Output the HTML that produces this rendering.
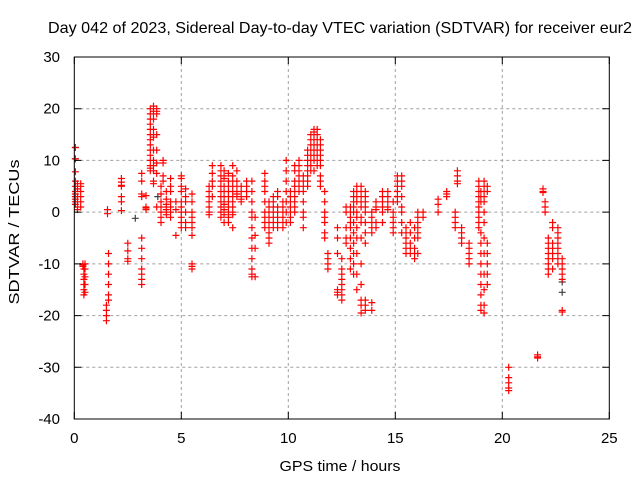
<!DOCTYPE html>
<html><head><meta charset="utf-8"><style>
html,body{margin:0;padding:0;background:#fff;}
svg{display:block;font-family:"Liberation Sans","DejaVu Sans",sans-serif;}
</style></head><body>
<svg id="chart" width="640" height="480" viewBox="0 0 640 480">
<rect width="640" height="480" fill="#fff"/>
<text x="340" y="33" font-size="16" text-anchor="middle" textLength="584" lengthAdjust="spacingAndGlyphs" fill="#000">Day 042 of 2023, Sidereal Day-to-day VTEC variation (SDTVAR) for receiver eur2</text>
<g id="grid"></g>
<g id="marks"></g>
<g id="axes"></g>
<text x="340" y="471" font-size="15" text-anchor="middle" textLength="121" lengthAdjust="spacingAndGlyphs">GPS time / hours</text>
<text transform="translate(19,232) rotate(-90)" font-size="15" text-anchor="middle" textLength="145" lengthAdjust="spacingAndGlyphs">SDTVAR / TECUs</text>
</svg>
<script>
const xTicks=[0,5,10,15,20,25];
const yTicks=[30,20,10,0,-10,-20,-30,-40];
// clusters: [hour, [values...]]
const redClusters=[
[0.05,[12.5,10.3,7.8,6,5,4,3.5,3,2.5,2,1.5]],
[0.15,[5.5,4.5,3,2,1,0.5]],
[0.3,[5.5,5,4,3,2,1]],
[0.4,[-10,-10.2,-10.5]],
[0.45,[-11,-12,-13,-14,-15,-16]],
[0.5,[-10,-11,-12.5,-14,-15.5]],
[1.55,[0.5,-0.3]],
[1.5,[-20,-21,-19,-18]],
[1.6,[-8,-10,-12,-14,-16,-17]],
[2.2,[6.5,5.8,5,5.2,3,2,0.3]],
[2.5,[-6,-7.5,-9,-9.5]],
[3.15,[7.5,6,3.5,3,-5,-7,-9,-11,-12,-13,-14]],
[3.35,[1,0.5,0.8,3.2]],
[3.55,[8,8.5,9,10,11,12,13,14,15,16,17,18,19,20]],
[3.7,[20.5,19.5,19,18,16,15,14.5,12,10,9,8,6,5.5]],
[3.85,[20,19.5,19,15,12,9.5,7.5,1]],
[4.05,[5,3.5,2,1,0,-1,-2]],
[4.15,[10,9.5,6,7]],
[4.3,[4,2.5,1.5,0.5,-0.5,1,0]],
[4.5,[6.5,5,4,2,1,0,-1]],
[4.75,[-4.5,2,0.5]],
[5.0,[7,6.5,5,4,2,1,0,-1,-2,-3]],
[5.2,[4.5,3,2,0,-2,-3]],
[5.5,[-10,-10.5,-11,3.5,2,0,-1,-2,-3,-4.5]],
[6.3,[5,4,3,2,1,0,-0.5]],
[6.45,[9,7.5,6,5,3]],
[6.85,[9,8,7,6,5,4,3,2,1,0,-1]],
[7.0,[8,7,6.5,5,4,3,2,1.5,0.5,-0.5,-2]],
[7.2,[7.5,6,5,4,3,2,1,0,-1,-2]],
[7.4,[9,7,6,5,4,3,2,1,0,-0.5,-3]],
[7.6,[8,6,5,4,3.5,3]],
[7.8,[5,4,3,2.5,2,3]],
[8.05,[3,4,5,6]],
[8.3,[6,4,2,0,-1,-3,-5,-7,-9,-11,-12,-12.5]],
[8.45,[-1,-4.5,-7,-12.5]],
[8.9,[7.5,6,5,4,2,0,-1,-2,-3]],
[9.1,[2,1,0,-1,-2,-3,-4,-5,-6]],
[9.3,[3,2,1,0,-1,-2,-3]],
[9.5,[4,3,1,0,-1,-2,-3]],
[9.75,[2,1,0,-1,-2,-3]],
[9.9,[10,8,6,4,2,0,-2]],
[10.1,[4,3,2,1,0,-1,-2]],
[10.3,[9,8,6,5,4,3,2,1,0]],
[10.5,[10,9,8,7,6,5,4]],
[10.7,[7,6,5,4,2,0,-1,-3]],
[10.9,[12,11,10,9,8,7,6,5]],
[11.05,[15,14,13,12,11,10,9,8]],
[11.2,[16,15.5,15,14,13,12,11,10,8]],
[11.35,[16,15,14,13,12,11,10,9]],
[11.5,[14,13,12,11,10,9,7,6,5]],
[11.7,[4,2,0,-1,-2,-4,-5]],
[11.85,[-8,-9,-10,-11]],
[12.3,[-16,-15.5,-15,-3,-5,-8]],
[12.5,[-12,-13,-14,-15,-16,-17,-11,-9]],
[12.7,[-6,-5,-3,0,1]],
[12.9,[1,0,-1,-2,-3,-5,-7,-9,-11]],
[13.05,[4,3,2,1,0,-2,-4,-6,-8,-10,-12]],
[13.2,[5,4,3,2,0,-1,-3,-5,-8,-12,-15]],
[13.4,[5,4,3,2,1,-1,-2,-5,-10,-14,-17,-18,-19.5]],
[13.6,[4,3,2,1,0,-2,-4,-6,-18,-19,-17]],
[13.9,[-1,-2,-3,-4,0,-17.5,-19]],
[14.1,[2,1,0.5,-2,-3]],
[14.4,[3,4,2,1,0,-2]],
[14.65,[4,3,2,1,0.5]],
[14.9,[2,0,-1,-2,-3,-4]],
[15.1,[7,6,5,4,3,2]],
[15.3,[7,6,5,3,1,0,-2,-4]],
[15.5,[-4,-5,-6,-7,-8,-3]],
[15.7,[-2,-4,-6,-7,-8]],
[15.9,[-3,-5,-7,-8,-9]],
[16.05,[0,-1,-2,-3,-4,-5,-8]],
[16.3,[0,-1]],
[17.0,[2.5,1.5,0]],
[17.4,[3,3.5,4]],
[17.9,[8,7,6,5.5]],
[17.8,[0,-1,-2,-3]],
[18.1,[-3,-4,-5,-6]],
[18.45,[-6,-7,-8,-9,-10]],
[18.9,[6,5,4,3,2,1,0,-1,-2,-3]],
[19.0,[4,3,2,-4,-6,-8,-10,-12,-14,-16,-18,-19]],
[19.15,[6,5,4,3,2,0,-2,-5,-8,-12,-15,-18,-19.5]],
[19.3,[5,4,-6,-8,-10,-12,-14]],
[20.3,[-30,-32,-33,-34,-34.5,-34]],
[21.65,[-27.6,-28,-28.2]],
[21.9,[4.5,4,3.8]],
[22.0,[2,1,0]],
[22.15,[-5,-6,-7,-8,-9,-10,-11,-12]],
[22.35,[-2,-3,-6,-7,-8,-9,-11]],
[22.6,[-3,-4,-5,-6,-7,-8,-9,-10]],
[22.8,[-9,-10,-11,-12,-13,-19,-19.3]]
];
const darkClusters=[
[0.05,[12.5,10.3]],
[2.85,[-1.2]],
[3.9,[3]],
[22.8,[-13.5,-15.5]]
];
const X0=74.3,X1=609.3,Y0=419,Y1=57,xMin=0,xMax=25,yMin=-40,yMax=30;
const sx=v=>X0+(v-xMin)/(xMax-xMin)*(X1-X0);
const sy=v=>Y0-(v-yMin)/(yMax-yMin)*(Y0-Y1);
const NS="http://www.w3.org/2000/svg";
function mk(tag,parent){const e=document.createElementNS(NS,tag);parent.appendChild(e);return e;}
const grid=document.getElementById('grid'),axes=document.getElementById('axes'),marks=document.getElementById('marks');
xTicks.forEach(t=>{const x=sx(t);
 if(t>xMin&&t<xMax){const g=mk('line',grid);g.setAttribute('x1',x);g.setAttribute('x2',x);g.setAttribute('y1',Y1);g.setAttribute('y2',Y0);g.setAttribute('stroke','#a0a0a0');g.setAttribute('stroke-dasharray','3,3');
 
 }
 const tk=mk('path',axes);tk.setAttribute('d',`M${x},${Y0}v-7M${x},${Y1}v7`);tk.setAttribute('stroke','#000');
 
 
 const l=mk('text',axes);l.setAttribute('x',x);l.setAttribute('y',443);l.setAttribute('font-size','15');l.setAttribute('text-anchor','middle');l.textContent=t;
 
 
});
yTicks.forEach(t=>{const y=sy(t);
 if(t>yMin&&t<yMax){const g=mk('line',grid);g.setAttribute('x1',X0);g.setAttribute('x2',X1);g.setAttribute('y1',y);g.setAttribute('y2',y);g.setAttribute('stroke','#a0a0a0');g.setAttribute('stroke-dasharray','3,3');
 
 }
 const tk=mk('path',axes);tk.setAttribute('d',`M${X0},${y}h7M${X1},${y}h-7`);tk.setAttribute('stroke','#000');
 
 
 const l=mk('text',axes);l.setAttribute('x',60);l.setAttribute('y',y+5);l.setAttribute('font-size','15');l.setAttribute('text-anchor','end');l.textContent=t;
 
 
});
const fr=mk('rect',axes);fr.setAttribute('x',X0);fr.setAttribute('y',Y1);fr.setAttribute('width',X1-X0);fr.setAttribute('height',Y0-Y1);fr.setAttribute('fill','none');fr.setAttribute('stroke','#000');


function drawSeries(clusters,color,name){
 let d='';
 clusters.forEach(([h,vals])=>vals.forEach(v=>{const x=sx(h),y=sy(v);d+=`M${(x-3.5).toFixed(1)},${y.toFixed(1)}h7M${x.toFixed(1)},${(y-3.5).toFixed(1)}v7`;}));
 const p=mk('path',marks);p.setAttribute('d',d);p.setAttribute('stroke',color);p.setAttribute('stroke-width','1.2');p.setAttribute('fill','none');
 
 
}
drawSeries(darkClusters,'#404040','dark-points');
drawSeries(redClusters,'#ff0000','sdtvar-points');
</script>
</body></html>
